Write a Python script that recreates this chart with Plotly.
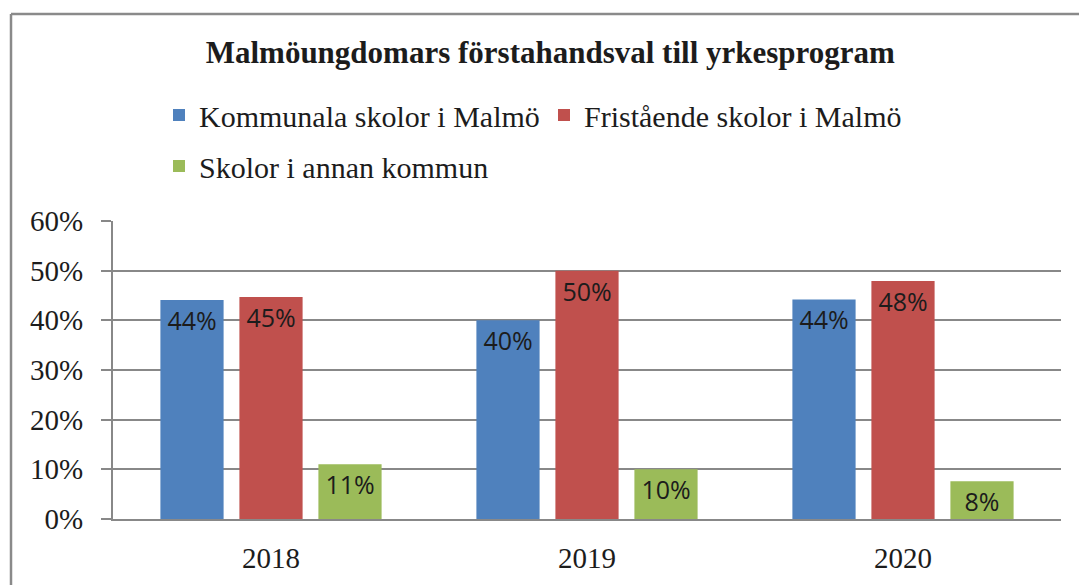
import plotly.graph_objects as go

years = ["2018", "2019", "2020"]
kommunala = [0.441, 0.400, 0.442]
fristaende = [0.447, 0.500, 0.479]
annan = [0.110, 0.100, 0.076]
series_names = ["Kommunala skolor i Malmö", "Fristående skolor i Malmö", "Skolor i annan kommun"]
series_colors = ["#4F81BD", "#C0504D", "#9BBB59"]
series_legend = ["legend", "legend", "legend2"]
y_ticks = [0, 0.1, 0.2, 0.3, 0.4, 0.5, 0.6]

W, H = 1079, 585
ML, MR, MT, MB = 113, 18, 221, 66
PW, PH = W - ML - MR, H - MT - MB

SERIF = "Liberation Serif"
LABEL_FONT = "Open Sans"
GRID = "#888888"
TXT = "#1c1c1c"

fig = go.Figure()
for name, vals, col, lg in zip(series_names, [kommunala, fristaende, annan], series_colors, series_legend):
    fig.add_trace(go.Bar(
        x=years, y=vals, name=name, legend=lg,
        marker=dict(color=col, line=dict(width=0)),
        texttemplate="%{y:.0%}",
        textposition="inside",
        insidetextanchor="end",
        textfont=dict(family=LABEL_FONT, size=25, color=TXT),
        insidetextfont=dict(family=LABEL_FONT, size=25, color=TXT),
        constraintext="none",
        cliponaxis=False,
    ))

def px_to_paper_x(px):
    return (px - ML) / PW

def px_to_paper_y(py):
    return (H - MB - py) / PH

legend_common = dict(
    orientation="h", xanchor="left", xref="container", yanchor="middle", yref="container",
    font=dict(family=SERIF, size=30, color=TXT),
    bgcolor="rgba(0,0,0,0)", traceorder="normal",
)

fig.update_layout(
    width=W, height=H,
    margin=dict(l=ML, r=MR, t=MT, b=MB, autoexpand=False),
    paper_bgcolor="white", plot_bgcolor="white",
    barmode="group", bargap=0.25, bargroupgap=0.2,
    title=dict(
        text="<b>Malmöungdomars förstahandsval till yrkesprogram</b>",
        font=dict(family=SERIF, size=31, color=TXT),
        x=0.51, xanchor="center", xref="container",
        y=1 - 52 / H, yanchor="middle", yref="container",
    ),
    legend=dict(legend_common, x=159 / W, y=1 - 115 / H,
                entrywidth=340, entrywidthmode="pixels"),
    legend2=dict(legend_common, x=159 / W, y=1 - 166 / H),
    font=dict(family=SERIF, size=29, color=TXT),
    showlegend=True,
    xaxis=dict(
        showline=True, linecolor=GRID, linewidth=2,
        ticks="", showgrid=False, automargin=False,
        tickfont=dict(family=SERIF, size=29, color=TXT),
        ticklabelstandoff=12,
    ),
    yaxis=dict(
        range=[0, 0.6], tickvals=y_ticks, tickformat=".0%",
        showgrid=True, gridcolor=GRID, gridwidth=2,
        zeroline=False, automargin=False,
        showline=True, linecolor=GRID, linewidth=2,
        ticks="outside", ticklen=10, tickcolor=GRID, tickwidth=2,
        tickfont=dict(family=SERIF, size=29, color=TXT),
        ticklabelstandoff=12,
    ),
    shapes=[
        dict(type="line", xref="paper", yref="paper",
             x0=px_to_paper_x(11), x1=px_to_paper_x(W + 5),
             y0=px_to_paper_y(14), y1=px_to_paper_y(14),
             line=dict(color="#8a8a8a", width=2.5)),
        dict(type="line", xref="paper", yref="paper",
             x0=px_to_paper_x(11), x1=px_to_paper_x(11),
             y0=px_to_paper_y(14), y1=px_to_paper_y(H + 5),
             line=dict(color="#8a8a8a", width=2.5)),
    ],
)

fig.write_html(
    "out.html",
    config={"displayModeBar": False},
    post_script="document.body.style.margin='0';document.body.style.padding='0';",
)
